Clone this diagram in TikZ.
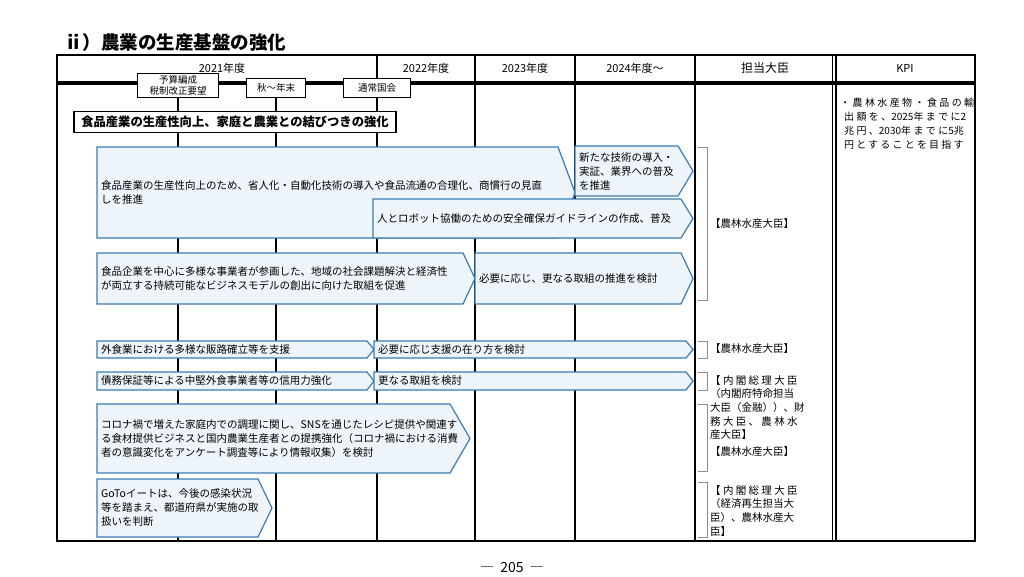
\documentclass[tikz,border=0pt]{standalone}
\usepackage{fontspec}
\setmainfont{Noto Sans CJK JP}
\usetikzlibrary{positioning}
\definecolor{flowfill}{HTML}{EEF5FA}
\definecolor{flowline}{HTML}{3A7CB2}
\tikzset{
  flow/.style={draw=flowline, fill=flowfill, line width=1.2pt, line join=miter},
  txt/.style={anchor=west, align=left, inner sep=0pt, font=\fontsize{10.5}{14}\selectfont},
  yeartxt/.style={inner sep=0pt, font=\fontsize{11}{13}\selectfont},
  tag/.style={draw, line width=1pt, fill=white, align=center, inner sep=1pt, font=\fontsize{9.5}{11}\selectfont},
  grid/.style={line width=1.4pt},
  brk/.style={draw=black!45, line width=.8pt},
  minister/.style={anchor=west, align=left, inner sep=0pt, font=\fontsize{10.5}{13.7}\selectfont}
}
\newcommand\pentarrow[6]{\draw[flow] (#1,#2) -- ({#3-#5},#2) -- (#3,{(#2+#4)/2}) -- ({#3-#5},#4) -- (#1,#4) -- cycle;
  \coordinate (#6) at ({#1+4},{(#2+#4)/2});}
\newcommand\tantobrk[2]{\draw[brk] (698,#1) -- (707,#1) -- (707,#2) -- (698,#2);}
\newcommand\spaced[2]{{\addfontfeature{LetterSpace=#1}#2}}

\begin{document}
\begin{tikzpicture}[x=1pt, y=-1pt]
    \useasboundingbox (0,0) rectangle (1024,576);
    \node[anchor=west, inner sep=0pt, font=\bfseries\fontsize{18.5}{20}\selectfont] (title) at (64,42) {ⅱ）農業の生産基盤の強化};
    \coordinate (bot) at (0,541);
    \foreach \x in {377,475,575,695} \draw[grid] (\x,55) -- (\x,541);
    \draw[line width=1pt] (832,55) -- (832,541);
    \draw[line width=2pt] (836,55) -- (836,541);
    \draw[line width=4pt] (57,83) -- (975,83);
    \draw[line width=2.2pt] (57,55) rectangle (975,541);
    \node[yeartxt] (y2021) at (222,68) {2021年度};
    \node[yeartxt] (y2022) at (426,68) {2022年度};
    \node[yeartxt] (y2023) at (525,68) {2023年度};
    \node[yeartxt] (y2024) at (635,68) {2024年度〜};
    \node[yeartxt, font=\fontsize{12}{14}\selectfont] (tanto) at (765,68) {担当大臣};
    \node[yeartxt] (kpi) at (905,68) {KPI};
    \node[tag, minimum width=81pt, minimum height=24pt] (yosan) at (178,85) {予算編成\\税制改正要望};
    \node[tag, minimum width=59pt, minimum height=19pt] (aki) at (276,88) {秋〜年末};
    \node[tag, minimum width=67pt, minimum height=19pt] (tsujo) at (377,88) {通常国会};
    \draw[grid] (yosan.south) -- (yosan.south |- bot);
    \draw[grid] (aki.south) -- (aki.south |- bot);
    \node[draw, line width=1.6pt, fill=white, minimum width=322pt, minimum height=21pt, inner sep=0pt,
      font=\bfseries\fontsize{12.3}{14}\selectfont] (head) at (235,122) {食品産業の生産性向上、家庭と農業との結びつきの強化};
    \pentarrow{97}{147}{575}{238}{17}{a1}
    \pentarrow{575}{146}{693}{196}{15}{a2}
    \pentarrow{373}{199}{693}{238}{12}{a3}
    \pentarrow{97}{253}{475}{304}{12}{a4}
    \pentarrow{475}{253}{693}{304}{12}{a5}
    \pentarrow{97}{341}{374}{358}{7}{a6}
    \pentarrow{374}{341}{693}{358}{7}{a7}
    \pentarrow{97}{372}{374}{390}{7}{a8}
    \pentarrow{374}{372}{693}{390}{7}{a9}
    \pentarrow{97}{404}{470}{473}{20}{a10}
    \pentarrow{97}{479}{272}{537}{14}{a11}
    \node[txt] (t1) at (a1) {食品産業の生産性向上のため、省人化・自動化技術の導入や食品流通の合理化、商慣行の見直\\しを推進};
    \node[txt] (t2) at (a2) {新たな技術の導入・\\実証、業界への普及\\を推進};
    \node[txt] (t3) at (a3) {人とロボット協働のための安全確保ガイドラインの作成、普及};
    \node[txt] (t4) at (a4) {食品企業を中心に多様な事業者が参画した、地域の社会課題解決と経済性\\が両立する持続可能なビジネスモデルの創出に向けた取組を促進};
    \node[txt] (t5) at (a5) {必要に応じ、更なる取組の推進を検討};
    \node[txt] (t6) at (a6) {外食業における多様な販路確立等を支援};
    \node[txt] (t7) at (a7) {必要に応じ支援の在り方を検討};
    \node[txt] (t8) at (a8) {債務保証等による中堅外食事業者等の信用力強化};
    \node[txt] (t9) at (a9) {更なる取組を検討};
    \node[txt] (t10) at (a10) {コロナ禍で増えた家庭内での調理に関し、SNSを通じたレシピ提供や関連す\\る食材提供ビジネスと国内農業生産者との提携強化（コロナ禍における消費\\者の意識変化をアンケート調査等により情報収集）を検討};
    \node[txt] (t11) at (a11) {GoToイートは、今後の感染状況\\等を踏まえ、都道府県が実施の取\\扱いを判断};
    \tantobrk{147}{300}
    \tantobrk{341}{358}
    \tantobrk{372}{390}
    \tantobrk{404}{471}
    \tantobrk{482}{537}
    \node[minister] (m1) at (710,224) {【農林水産大臣】};
    \node[minister] (m2) at (710,349) {【農林水産大臣】};
    \node[minister, anchor=north west] (m3) at (710,375) {\spaced{22}{【内閣総理大臣}\\（内閣府特命担当\\大臣（金融））、財\\\spaced{22}{務大臣、農林水}\\産大臣】};
    \node[minister] (m4) at (710,452) {【農林水産大臣】};
    \node[minister, anchor=north west] (m5) at (710,485) {\spaced{22}{【内閣総理大臣}\\（経済再生担当大\\臣）、農林水産大\\臣】};
    \node[minister, anchor=north west, font=\fontsize{10}{14}\selectfont] (k1) at (840,98) {\spaced{24}{・農林水産物・食品の輸}\\\ \,\spaced{24}{出額を、}2025\spaced{24}{年までに}2\\\ \,\spaced{24}{兆円、}2030\spaced{24}{年までに}5\spaced{24}{兆}\\\ \,\spaced{22}{円とすることを目指す}};
    \node[font=\fontsize{14}{16}\selectfont] (pageno) at (512,567) {―\ \ 205\ \ ―};
\end{tikzpicture}
\end{document}
